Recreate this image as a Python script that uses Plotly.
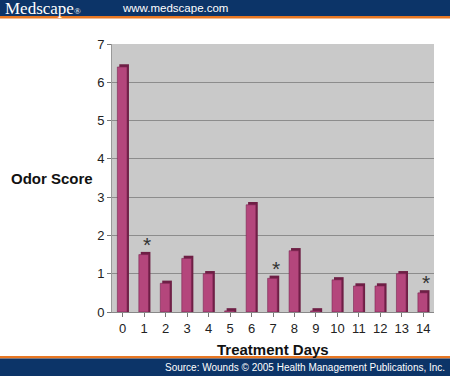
import plotly.graph_objects as go

days = [str(d) for d in range(15)]
odor_scores = [6.4, 1.5, 0.75, 1.4, 1.0, 0.03, 2.8, 0.88, 1.6, 0.03, 0.84, 0.68, 0.68, 1.0, 0.5]
starred_days = ["1", "7", "14"]
y_ticks = [0, 1, 2, 3, 4, 5, 6, 7]

depth = 0.07
fig = go.Figure()
# side/top face (3D extrusion look)
fig.add_trace(go.Bar(
    x=days, y=[v + depth for v in odor_scores], width=0.45, offset=-0.16,
    marker=dict(color="#6e1f45", line=dict(width=0)), hoverinfo="skip", showlegend=False))
# front face
fig.add_trace(go.Bar(
    x=days, y=odor_scores, width=0.45, offset=-0.25,
    marker=dict(color="#b4467c", line=dict(color="#7a2450", width=0.6)), showlegend=False))

annotations = []
for d in starred_days:
    v = odor_scores[days.index(d)]
    annotations.append(dict(x=d, y=v, xref="x", yref="y", text="*", showarrow=False,
                            xshift=3, yshift=10, font=dict(size=21, color="#333333",
                            family="Liberation Sans, Arial, sans-serif")))

annotations += [
    dict(x=52, y=178, text="<b>Odor Score</b>", showarrow=False, xanchor="center"),
    dict(x=273, y=349, text="<b>Treatment Days</b>", showarrow=False, xanchor="center"),
    dict(x=3, y=8, text="Medscape<span style='font-size:9px'>®</span>", showarrow=False, xanchor="left",
         font=dict(family="Liberation Serif, Times New Roman, serif", size=17, color="white")),
    dict(x=120, y=8, text="www.medscape.com", showarrow=False, xanchor="left",
         font=dict(family="Liberation Sans, Arial, sans-serif", size=11.5, color="white")),
    dict(x=447, y=367, text="Source: Wounds © 2005 Health Management Publications, Inc.", showarrow=False,
         xanchor="right", font=dict(family="Liberation Sans, Arial, sans-serif", size=10, color="white")),
]
# convert pixel-based annotations to paper coords
W, H = 450, 376
ml, mr, mt, mb = 112, 16, 44, 64
pw, ph = W - ml - mr, H - mt - mb
for a in annotations[3:]:
    px, py = a["x"], a["y"]
    a["x"] = (px - ml) / pw
    a["y"] = (H - mb - py) / ph
    a["xref"] = "paper"
    a["yref"] = "paper"
    a.setdefault("font", dict(family="Liberation Sans, Arial, sans-serif", size=15, color="#111111"))
    a["yanchor"] = "middle"

def px_to_paper(x0, y0, x1, y1):
    return dict(x0=(x0 - ml) / pw, x1=(x1 - ml) / pw,
                y0=(H - mb - y0) / ph, y1=(H - mb - y1) / ph)

shapes = [
    dict(type="rect", xref="paper", yref="paper", **px_to_paper(-5, -5, W + 5, 16),
         fillcolor="#0c3468", line=dict(width=0), layer="below"),
    dict(type="rect", xref="paper", yref="paper", **px_to_paper(-5, 16, W + 5, 18.5),
         fillcolor="#e87722", line=dict(width=0), layer="below"),
    dict(type="rect", xref="paper", yref="paper", **px_to_paper(-5, 356, W + 5, 358.5),
         fillcolor="#e87722", line=dict(width=0), layer="below"),
    dict(type="rect", xref="paper", yref="paper", **px_to_paper(-5, 358.5, W + 5, H + 5),
         fillcolor="#0c3468", line=dict(width=0), layer="below"),
]

fig.update_layout(
    width=W, height=H,
    margin=dict(l=ml, r=mr, t=mt, b=mb),
    paper_bgcolor="white", plot_bgcolor="#c9c9c9",
    barmode="overlay", bargap=0.5,
    font=dict(family="Liberation Sans, Arial, sans-serif", size=13, color="#222222"),
    xaxis=dict(type="category", range=[-0.5, 14.5], showgrid=False, ticks="outside",
               ticklen=4, tickcolor="#777777", showline=True, linecolor="#888888",
               tickfont=dict(size=13), fixedrange=True),
    yaxis=dict(range=[0, 7], tickvals=y_ticks, showgrid=True, gridcolor="#8c8c8c",
               gridwidth=1.3, ticks="outside", ticklen=4, tickcolor="#777777",
               showline=True, linecolor="#999999", zeroline=False,
               tickfont=dict(size=13), fixedrange=True),
    annotations=annotations,
    shapes=shapes,
    showlegend=False,
)
fig.write_html("out.html", config={"displayModeBar": False},
               post_script="document.body.style.margin='0';document.body.style.overflow='hidden';")
